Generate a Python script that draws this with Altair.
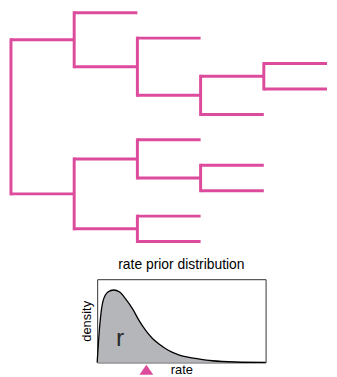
import altair as alt
import pandas as pd

PINK = "#dc4b9c"

# ---- tree: segments in (depth, leaf index) units ----
# horizontal branches
h_x  = [0, 0, 1, 1, 2, 2, 3, 3, 4, 4, 1, 1, 2, 2, 3, 3, 2, 2]
h_x2 = [1, 1, 2, 2, 3, 3, 4, 4, 5, 5, 2, 2, 3, 3, 4, 4, 3, 3]
h_y  = [1.0625, 7.125, 0, 2.125, 1, 3.25, 2.5, 4, 2, 3, 5.75, 8.5, 5, 6.5, 6, 7, 8, 9]
# vertical connectors
v_x  = [0, 1, 2, 3, 4, 1, 2, 3, 2]
v_y  = [1.0625, 0, 1, 2.5, 2, 5.75, 5, 6, 8]
v_y2 = [7.125, 2.125, 3.25, 4, 3, 8.5, 6.5, 7, 9]

# ---- rate prior density ----
rate = [0, 0.16, 0.35, 0.64, 0.98, 1.33, 1.70, 2.11, 2.50, 2.88, 3.27, 3.67,
        4.05, 4.44, 4.84, 5.32, 6.08, 6.84, 8.25, 10]
density = [0, 0.46, 0.74, 0.845, 0.87, 0.845, 0.76, 0.64, 0.50, 0.385, 0.29, 0.22,
           0.167, 0.123, 0.092, 0.067, 0.04, 0.02, 0.005, 0.0]
marker_rate = [2.92]
label_rate = [1.37]
label_density = [0.2]
label_text = ["r"]

tx = alt.Scale(domain=[0, 5], nice=False, zero=False)
ty = alt.Scale(domain=[0, 9], nice=False, zero=False, reverse=True)

hz = alt.Chart(pd.DataFrame({"x": h_x, "x2": h_x2, "y": h_y})).mark_rule(
    color=PINK, strokeWidth=3, strokeCap="butt"
).encode(
    x=alt.X("x:Q", scale=tx, axis=None), x2="x2:Q",
    y=alt.Y("y:Q", scale=ty, axis=None),
)
vt = alt.Chart(pd.DataFrame({"x": v_x, "y": v_y, "y2": v_y2})).mark_rule(
    color=PINK, strokeWidth=3, strokeCap="square"
).encode(
    x=alt.X("x:Q", scale=tx, axis=None),
    y=alt.Y("y:Q", scale=ty, axis=None), y2="y2:Q",
)
tree = alt.layer(hz, vt).properties(width=319, height=231)

dens_df = pd.DataFrame({"rate": rate, "density": density})
xs = alt.Scale(domain=[0, 10], nice=False, zero=False)
ys = alt.Scale(domain=[0, 1], nice=False, zero=False)
base = alt.Chart(dens_df)
area = base.mark_area(color="#b5b6b9", interpolate="monotone").encode(
    x=alt.X("rate:Q", scale=xs,
            axis=alt.Axis(title="rate", labels=False, ticks=False, domain=False, grid=False,
                          titlePadding=1.5, titleFontSize=13, titleFontWeight="normal",
                          titleColor="black")),
    y=alt.Y("density:Q", scale=ys,
            axis=alt.Axis(title="density", labels=False, ticks=False, domain=False, grid=False,
                          titlePadding=4, titleFontSize=13, titleFontWeight="normal",
                          titleColor="black")),
)
line = base.mark_line(color="black", strokeWidth=1.3, interpolate="monotone").encode(
    x=alt.X("rate:Q", scale=xs), y=alt.Y("density:Q", scale=ys)
)
tri = alt.Chart(pd.DataFrame({"rate": marker_rate})).mark_point(
    shape="M-1,0.72L1,0.72L0,-0.72Z", filled=True, size=196, color=PINK, opacity=1
).encode(x=alt.X("rate:Q", scale=xs), y=alt.value(91.5))
rlab = alt.Chart(pd.DataFrame({"rate": label_rate, "density": label_density, "t": label_text})).mark_text(
    fontSize=25, align="center", baseline="alphabetic", color="#2a2a2a"
).encode(x=alt.X("rate:Q", scale=xs), y=alt.Y("density:Q", scale=ys), text="t:N")

dchart = alt.layer(area, line, tri, rlab).properties(
    width=170, height=84,
    title=alt.TitleParams("rate prior distribution", fontSize=14, fontWeight="normal",
                          baseline="alphabetic", offset=-4, color="black"),
    view=alt.ViewBackground(stroke="#333333", strokeWidth=1),
)

spacer = alt.Chart(pd.DataFrame({"a": [0]})).mark_point(opacity=0).properties(width=69, height=1)

chart = alt.vconcat(
    tree,
    alt.hconcat(spacer, dchart, spacing=0),
    spacing=13,
).properties(padding=0).configure(font="Liberation Sans").configure_view(strokeWidth=0)

chart.save("out.html", embed_options={"renderer": "svg", "actions": False})
